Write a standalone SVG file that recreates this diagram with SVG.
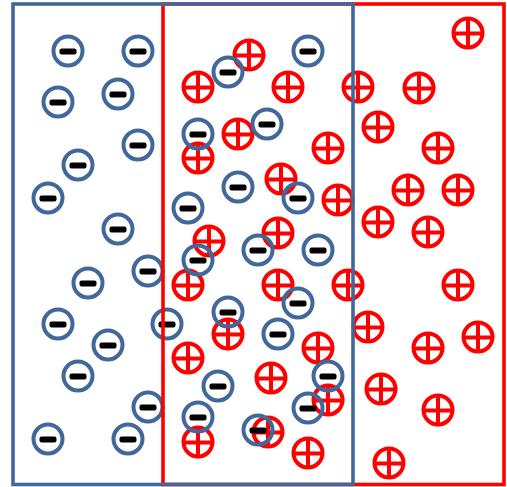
<svg xmlns="http://www.w3.org/2000/svg" xmlns:xlink="http://www.w3.org/1999/xlink" width="507" height="487" viewBox="0 0 507 487">
<style>
.ring-m{fill:none;stroke:#41689b;stroke-width:4}
.ring-p{fill:none;stroke:#ff0000;stroke-width:4}
.bar{fill:#000}
.cross{stroke:#ff0000;stroke-width:4;fill:none}
.box-b{fill:none;stroke:#41689b;stroke-width:3.6}
.box-r{fill:none;stroke:#ff0000;stroke-width:3.6}
</style>
<defs>
<g id="m"><circle class="ring-m" cx="0" cy="0" r="14.5"/><rect class="bar" x="-8.5" y="-2.5" width="17" height="6" rx="2"/></g>
<g id="p"><circle class="ring-p" cx="0" cy="0" r="14.5"/><path class="cross" d="M-13 0.5H13M0 -13V13"/></g>
</defs>
<rect width="507" height="487" fill="#fff"/>
<g id="plus-particles">
<use xlink:href="#p" x="249" y="55"/>
<use xlink:href="#p" x="468" y="33"/>
<use xlink:href="#p" x="198" y="87"/>
<use xlink:href="#p" x="288" y="87"/>
<use xlink:href="#p" x="358" y="87"/>
<use xlink:href="#p" x="419" y="88"/>
<use xlink:href="#p" x="238" y="134"/>
<use xlink:href="#p" x="378" y="127"/>
<use xlink:href="#p" x="328" y="148"/>
<use xlink:href="#p" x="438" y="148"/>
<use xlink:href="#p" x="198" y="158"/>
<use xlink:href="#p" x="281" y="179"/>
<use xlink:href="#p" x="338" y="200"/>
<use xlink:href="#p" x="408" y="190"/>
<use xlink:href="#p" x="458" y="190"/>
<use xlink:href="#p" x="378" y="222"/>
<use xlink:href="#p" x="428" y="232"/>
<use xlink:href="#p" x="209" y="241"/>
<use xlink:href="#p" x="278" y="233"/>
<use xlink:href="#p" x="188" y="285"/>
<use xlink:href="#p" x="278" y="285"/>
<use xlink:href="#p" x="348" y="285"/>
<use xlink:href="#p" x="458" y="285"/>
<use xlink:href="#p" x="228" y="334"/>
<use xlink:href="#p" x="368" y="327"/>
<use xlink:href="#p" x="478" y="337"/>
<use xlink:href="#p" x="318" y="348"/>
<use xlink:href="#p" x="428" y="348"/>
<use xlink:href="#p" x="188" y="358"/>
<use xlink:href="#p" x="271" y="378"/>
<use xlink:href="#p" x="381" y="389"/>
<use xlink:href="#p" x="328" y="400"/>
<use xlink:href="#p" x="438" y="410"/>
<use xlink:href="#p" x="268" y="432"/>
<use xlink:href="#p" x="198" y="442"/>
<use xlink:href="#p" x="308" y="453"/>
<use xlink:href="#p" x="389" y="463"/>
</g>
<g id="minus-particles">
<use xlink:href="#m" x="68" y="51"/>
<use xlink:href="#m" x="138" y="51"/>
<use xlink:href="#m" x="308" y="51"/>
<use xlink:href="#m" x="228" y="72"/>
<use xlink:href="#m" x="58" y="102"/>
<use xlink:href="#m" x="118" y="94"/>
<use xlink:href="#m" x="198" y="134"/>
<use xlink:href="#m" x="267" y="124"/>
<use xlink:href="#m" x="138" y="145"/>
<use xlink:href="#m" x="78" y="165"/>
<use xlink:href="#m" x="238" y="187"/>
<use xlink:href="#m" x="298" y="198"/>
<use xlink:href="#m" x="48" y="198"/>
<use xlink:href="#m" x="188" y="208"/>
<use xlink:href="#m" x="118" y="229"/>
<use xlink:href="#m" x="258" y="250"/>
<use xlink:href="#m" x="318" y="250"/>
<use xlink:href="#m" x="198" y="260"/>
<use xlink:href="#m" x="148" y="271"/>
<use xlink:href="#m" x="88" y="283"/>
<use xlink:href="#m" x="298" y="303"/>
<use xlink:href="#m" x="228" y="312"/>
<use xlink:href="#m" x="58" y="324"/>
<use xlink:href="#m" x="167" y="324"/>
<use xlink:href="#m" x="278" y="334"/>
<use xlink:href="#m" x="108" y="345"/>
<use xlink:href="#m" x="78" y="376"/>
<use xlink:href="#m" x="218" y="386"/>
<use xlink:href="#m" x="328" y="376"/>
<use xlink:href="#m" x="148" y="407"/>
<use xlink:href="#m" x="308" y="408"/>
<use xlink:href="#m" x="198" y="417"/>
<use xlink:href="#m" x="258" y="430"/>
<use xlink:href="#m" x="48" y="439"/>
<use xlink:href="#m" x="128" y="439"/>
</g>
<g id="regions">
<rect id="p-region" class="box-r" x="163" y="4" width="341" height="480.5"/>
<rect id="n-region" class="box-b" x="13" y="4" width="340" height="480.5"/>
</g>
</svg>
